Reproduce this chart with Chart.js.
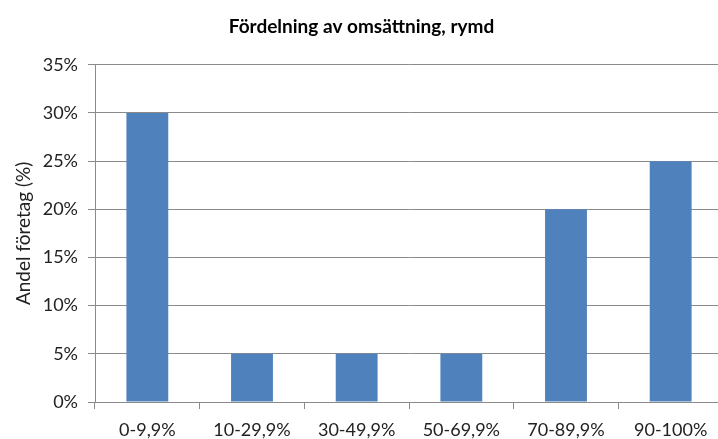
<!DOCTYPE html>
<html>
<head>
<meta charset="utf-8">
<script src="https://cdn.jsdelivr.net/npm/chart.js@4"></script>
<style>
  html, body { margin: 0; padding: 0; background: #fff; overflow: hidden; }
  #wrap { width: 723px; height: 439px; }
</style>
</head>
<body>
<div id="wrap"><canvas id="chart" width="723" height="439"></canvas></div>
<script>
// chart data
const categories = ["0-9,9%", "10-29,9%", "30-49,9%", "50-69,9%", "70-89,9%", "90-100%"];
const shares = [30, 5, 5, 5, 20, 25];
const yTicks = [0, 5, 10, 15, 20, 25, 30, 35];

const chartTitle = "Fördelning av omsättning, rymd";
const yTitle = "Andel företag (%)";

const gridColor = "#8a8a8a";
const textColor = "#222";
const fontFamily = "Lato, 'Open Sans', sans-serif";

const ctx = document.getElementById("chart").getContext("2d");

new Chart(ctx, {
  type: "bar",
  data: {
    labels: categories,
    datasets: [
      {
        label: yTitle,
        data: shares,
        backgroundColor: "#4f81bd",
        borderWidth: 0,
        barPercentage: 0.4,
        categoryPercentage: 1,
      },
    ],
  },
  options: {
    responsive: false,
    animation: false,
    layout: { padding: 0 },
    plugins: {
      legend: { display: false },
      tooltip: { enabled: false },
      title: {
        display: true,
        text: chartTitle,
        color: "#000",
        font: { family: fontFamily, size: 19, weight: "bold" },
        padding: { top: 15, bottom: 27 },
      },
    },
    scales: {
      x: {
        grid: {
          drawOnChartArea: false,
          drawTicks: true,
          tickLength: 7,
          color: gridColor,
        },
        border: { color: gridColor },
        ticks: {
          color: textColor,
          padding: 10,
          maxRotation: 0,
          font: { family: fontFamily, size: 18 },
        },
        afterFit: (scale) => {
          scale.height = 37;
        },
      },
      y: {
        min: 0,
        max: 35,
        afterBuildTicks: (scale) => {
          scale.ticks = yTicks.map((v) => ({ value: v }));
        },
        grid: {
          color: gridColor,
          tickLength: 7,
        },
        border: { color: gridColor },
        ticks: {
          color: textColor,
          padding: 10,
          font: { family: fontFamily, size: 18 },
          callback: (v) => v + "%",
        },
        title: {
          display: true,
          text: yTitle,
          color: textColor,
          font: { family: fontFamily, size: 19 },
          padding: { top: 12, bottom: 0 },
        },
        afterFit: (scale) => {
          scale.width = 95;
        },
      },
    },
  },
});
</script>
</body>
</html>
